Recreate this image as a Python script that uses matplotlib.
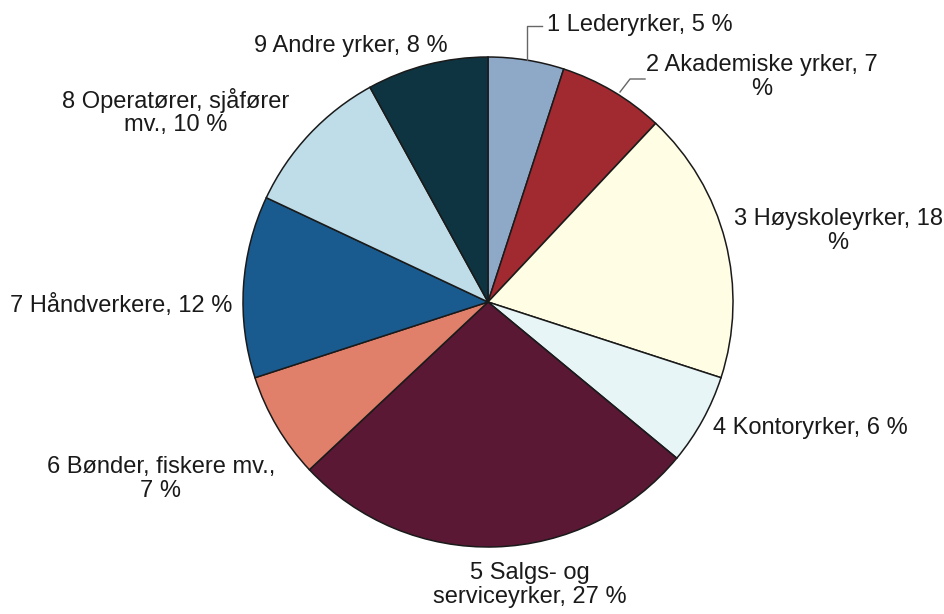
import matplotlib
matplotlib.use("Agg")
import matplotlib.pyplot as plt

labels = ["1 Lederyrker, 5 %", "2 Akademiske yrker, 7\n%", "3 Høyskoleyrker, 18\n%",
          "4 Kontoryrker, 6 %", "5 Salgs- og\nserviceyrker, 27 %", "6 Bønder, fiskere mv.,\n7 %",
          "7 Håndverkere, 12 %", "8 Operatører, sjåfører\nmv., 10 %", "9 Andre yrker, 8 %"]
values = [5, 7, 18, 6, 27, 7, 12, 10, 8]
colors = ["#8EA9C8", "#A02A2F", "#FFFDE3", "#E8F5F7", "#5A1834",
          "#E0806A", "#1A5B8F", "#BEDDE8", "#0E3441"]

# label positions (pixel coords, y from top) and alignment
label_pos = [(547, 25, "left"), (762, 77, "center"), (838, 231, "center"),
             (713, 428, "left"), (530, 585, "center"), (161, 479, "center"),
             (232, 305, "right"), (176, 112, "center"), (448, 46, "right")]

W, H = 945, 614
plt.rcParams['font.family'] = ['Liberation Sans', 'DejaVu Sans']
fig = plt.figure(figsize=(W / 100, H / 100), dpi=100)
ax = fig.add_axes([0, 0, 1, 1])

cx, cy, r = 488, H - 302, 245
ax.pie(values, colors=colors, startangle=90, counterclock=False,
       center=(cx, cy), radius=r, frame=True,
       wedgeprops=dict(edgecolor="#1a1a1a", linewidth=1.1))
ax.set_xlim(0, W)
ax.set_ylim(0, H)
ax.set_aspect("equal")
ax.axis("off")

for lab, (x, y, ha) in zip(labels, label_pos):
    ax.text(x, H - y, lab, ha=ha, va="center", fontsize=17,
            color="#1a1a1a", linespacing=1.08)

# leader lines
ax.plot([527, 527, 542], [H - 60, H - 26, H - 26], color="#666666", lw=1)
ax.plot([620, 630, 645], [H - 92, H - 79, H - 79], color="#666666", lw=1)

fig.savefig("out.png", dpi=100)
